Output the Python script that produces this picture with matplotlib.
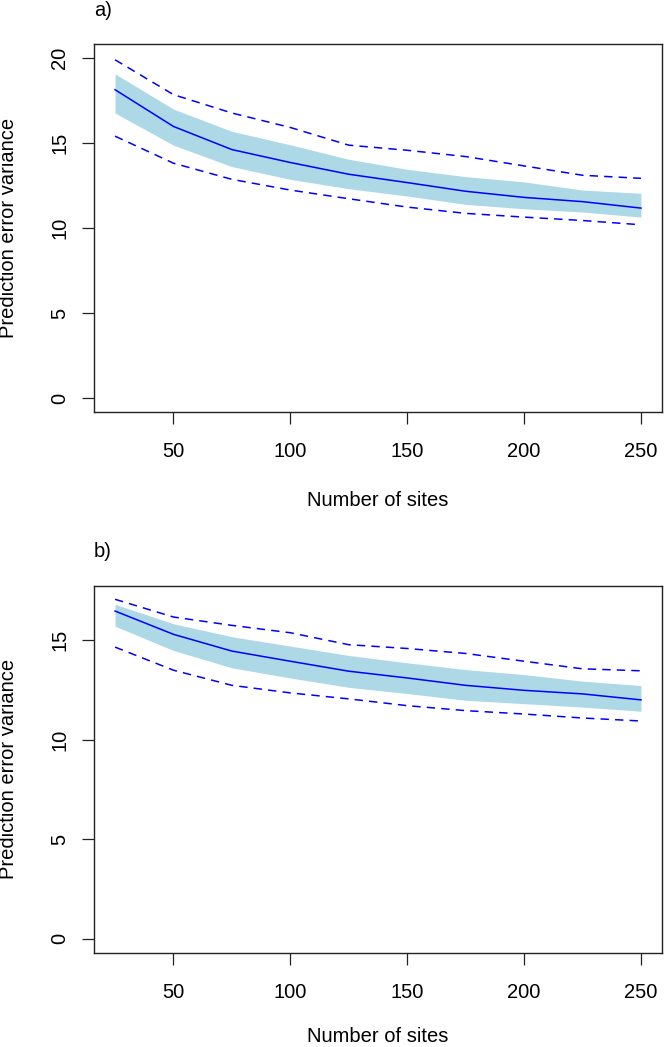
import numpy as np
import matplotlib
matplotlib.use("Agg")
import matplotlib.pyplot as plt

plt.rcParams['font.family'] = ['Liberation Sans', 'DejaVu Sans']

# number of sites
sites = [25, 50, 75, 100, 125, 150, 175, 200, 225, 250]

# panel a)
mean_a = [18.13, 15.97, 14.61, 13.85, 13.16, 12.67, 12.16, 11.80, 11.55, 11.17]
band_hi_a = [19.06, 16.99, 15.68, 14.89, 14.04, 13.45, 13.02, 12.71, 12.23, 12.04]
band_lo_a = [16.76, 14.87, 13.61, 12.86, 12.31, 11.88, 11.39, 11.13, 10.94, 10.64]
dash_hi_a = [19.89, 17.84, 16.76, 15.91, 14.87, 14.57, 14.20, 13.65, 13.10, 12.92]
dash_lo_a = [15.40, 13.81, 12.86, 12.23, 11.72, 11.23, 10.86, 10.64, 10.44, 10.19]

# panel b)
mean_b = [16.46, 15.29, 14.45, 13.94, 13.44, 13.10, 12.73, 12.48, 12.30, 12.00]
band_hi_b = [16.80, 15.82, 15.17, 14.70, 14.23, 13.86, 13.52, 13.27, 12.94, 12.72]
band_lo_b = [15.70, 14.48, 13.61, 13.10, 12.63, 12.32, 11.98, 11.81, 11.64, 11.43]
dash_hi_b = [17.05, 16.16, 15.74, 15.37, 14.77, 14.58, 14.33, 13.94, 13.56, 13.46]
dash_lo_b = [14.65, 13.49, 12.73, 12.35, 12.05, 11.71, 11.46, 11.29, 11.09, 10.94]

x_ticks = [50, 100, 150, 200, 250]
y_ticks_a = [0, 5, 10, 15, 20]
y_ticks_b = [0, 5, 10, 15]

W, H = 664, 1047
FS = 14.5


def r_lim(lo, hi):
    # R style 4% expansion
    pad = 0.04 * (hi - lo)
    return lo - pad, hi + pad


def panel(ax, mean, bhi, blo, dhi, dlo, ytop, yticks):
    ax.fill_between(sites, blo, bhi, color='#ADD8E6', linewidth=0)
    ax.plot(sites, mean, color='#0000FF', lw=1.1)
    ax.plot(sites, dhi, color='#0000FF', lw=1.1, dashes=(5.5, 4))
    ax.plot(sites, dlo, color='#0000FF', lw=1.1, dashes=(5.5, 4))
    ax.set_xlim(*r_lim(min(sites), max(sites)))
    ax.set_ylim(*r_lim(0, ytop))
    ax.set_xticks(x_ticks)
    ax.set_yticks(yticks)
    ax.tick_params(axis='both', direction='out', length=8.5, width=0.9,
                   labelsize=FS, color='#222222')
    ax.tick_params(axis='x', pad=13.5)
    ax.tick_params(axis='y', pad=9.2, labelrotation=90)
    for lab in ax.get_yticklabels():
        lab.set_verticalalignment('center')
    for s in ax.spines.values():
        s.set_linewidth(1.0)
        s.set_color('#222222')


fig = plt.figure(figsize=(W / 100, H / 100), dpi=100)

left, right = 94, 662
boxes = [(44.3, 411.7), (585.7, 952.5)]
data = [
    (mean_a, band_hi_a, band_lo_a, dash_hi_a, dash_lo_a, 20, y_ticks_a),
    (mean_b, band_hi_b, band_lo_b, dash_hi_b, dash_lo_b, max(dash_hi_b), y_ticks_b),
]
tags = ['a)', 'b)']
tag_base = [16, 557]

for (top, bot), d, tag, tb in zip(boxes, data, tags, tag_base):
    ax = fig.add_axes([left / W, 1 - bot / H, (right - left) / W, (bot - top) / H])
    panel(ax, *d)
    fig.text(left / W, 1 - tb / H, tag, fontsize=FS, ha='left', va='baseline')
    fig.text(9 / W, 1 - (top + bot) / 2 / H, 'Prediction error variance',
             fontsize=FS, rotation=90, ha='center', va='center')
    fig.text((left + right) / 2 / W, 1 - min(bot + 94, H - 5) / H, 'Number of sites',
             fontsize=FS, ha='center', va='baseline')

fig.savefig('out.png', dpi=100)
